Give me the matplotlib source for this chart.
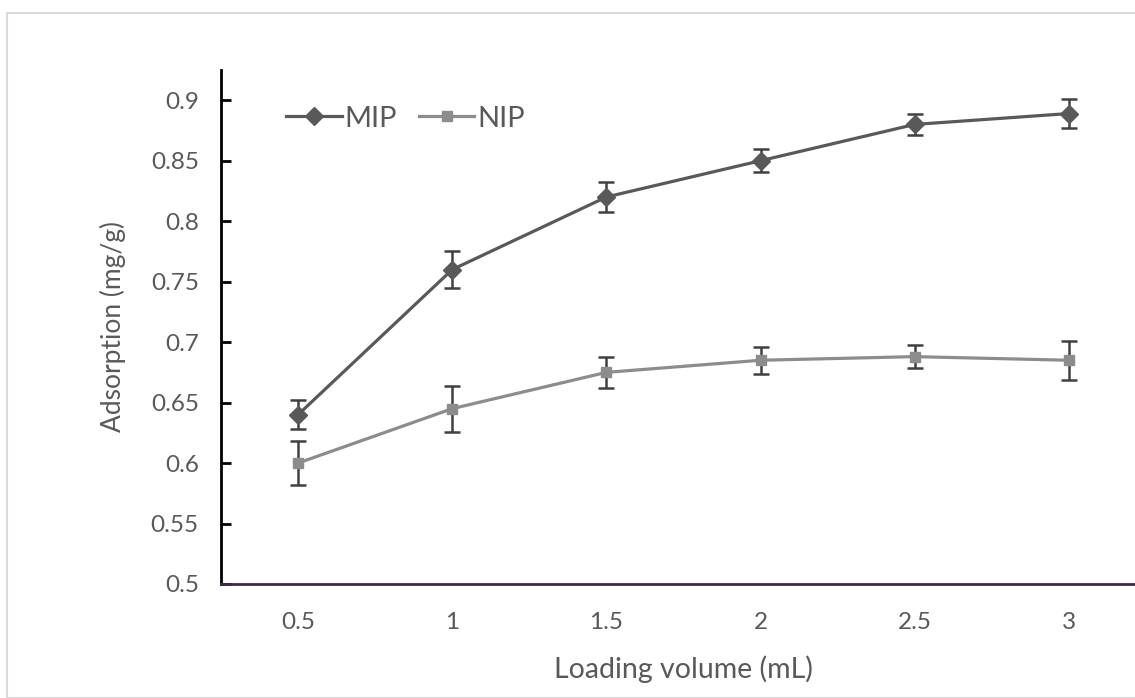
import numpy as np
import matplotlib
matplotlib.use("Agg")
import matplotlib.pyplot as plt
from matplotlib.patches import Rectangle

# data
volume = ["0.5", "1", "1.5", "2", "2.5", "3"]
mip = [0.640, 0.760, 0.820, 0.850, 0.880, 0.889]
mip_err = [0.012, 0.015, 0.012, 0.0095, 0.009, 0.012]
nip = [0.600, 0.645, 0.675, 0.685, 0.688, 0.685]
nip_err = [0.018, 0.019, 0.013, 0.011, 0.0095, 0.016]
yticks = [0.5, 0.55, 0.6, 0.65, 0.7, 0.75, 0.8, 0.85, 0.9]

plt.rcParams['font.family'] = ['Lato', 'DejaVu Sans']
txt = '#595959'

W, H = 1135, 698
fig = plt.figure(figsize=(W / 100, H / 100), dpi=100)

# light outer chart frame
fig.patches.append(Rectangle((7 / W, 0), 1.2, 1 - 13 / H, transform=fig.transFigure,
                             fill=False, edgecolor='#d9d9d9', linewidth=1.5))

# axes from x=221 to 1146 (cut off), y=70 to 584
x0, x1 = 221, 1146
yt, yb = 70, 584
ax = fig.add_axes([x0 / W, 1 - yb / H, (x1 - x0) / W, (yb - yt) / H])

x = np.arange(len(volume))
ax.errorbar(x, mip, yerr=mip_err, color='#595959', lw=2.3, marker='D', ms=9,
            ecolor='#404040', elinewidth=1.8, capsize=6, capthick=1.8, label='MIP', zorder=3)
ax.errorbar(x, nip, yerr=nip_err, color='#8c8c8c', lw=2.3, marker='s', ms=7,
            ecolor='#404040', elinewidth=1.8, capsize=6, capthick=1.8, label='NIP', zorder=3)

ax.set_xlim(-0.5, len(volume) - 0.5)
ax.set_ylim(0.5, 0.925)
ax.set_xticks(x)
ax.set_xticklabels(volume)
ax.set_yticks(yticks)
ax.set_yticklabels([f"{v:g}" for v in yticks])

for s in ['top', 'right']:
    ax.spines[s].set_visible(False)
ax.spines['left'].set_color('black')
ax.spines['left'].set_linewidth(2)
ax.spines['bottom'].set_color('#3a2a48')
ax.spines['bottom'].set_linewidth(2)

ax.tick_params(axis='y', direction='in', length=7, width=2, color='black',
               labelsize=17.5, labelcolor=txt, pad=16)
ax.tick_params(axis='x', length=0, labelsize=17.5, labelcolor=txt, pad=20)

ax.set_xlabel('Loading volume (mL)', fontsize=20.5, color=txt, labelpad=16)
ax.set_ylabel('Adsorption (mg/g)', fontsize=19, color=txt, labelpad=18)

# legend handles without error bars
hm, = ax.plot([], [], color='#595959', lw=2.3, marker='D', ms=9)
hn, = ax.plot([], [], color='#8c8c8c', lw=2.3, marker='s', ms=7)
ax.legend([hm, hn], ['MIP', 'NIP'], loc='upper left', bbox_to_anchor=(0.042, 0.982),
          ncol=2, frameon=False, fontsize=21, labelcolor=txt, handlelength=1.9,
          handletextpad=0.1, columnspacing=0.75)

fig.savefig('out.png', dpi=100)
